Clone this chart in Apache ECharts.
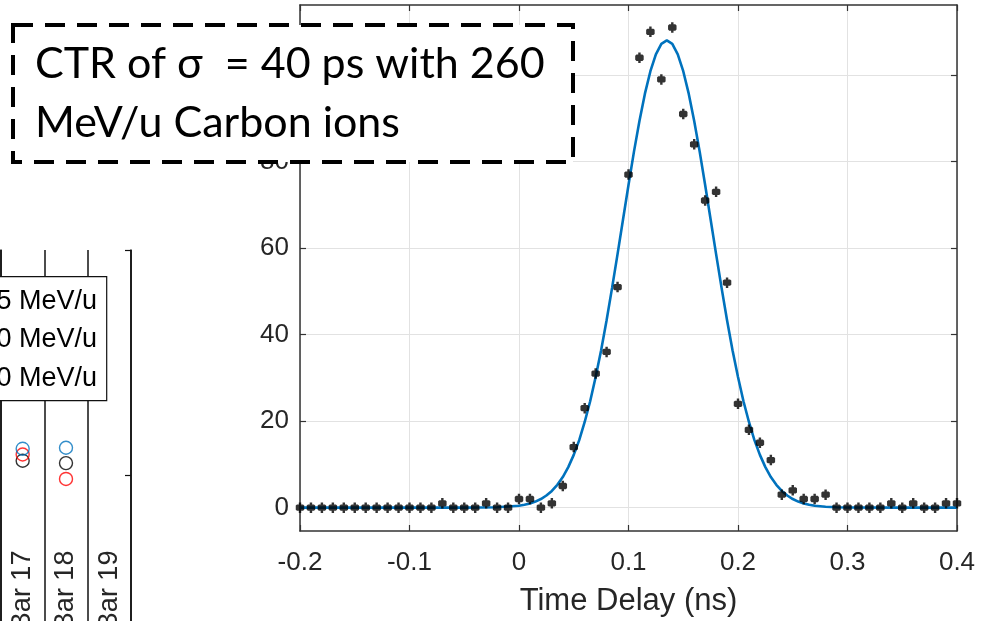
<!DOCTYPE html>
<html><head><meta charset="utf-8">
<script src="https://cdn.jsdelivr.net/npm/echarts@6/dist/echarts.min.js"></script>
<style>html,body{margin:0;padding:0;background:#fff}#c{width:990px;height:621px}</style>
</head><body><div id="c"></div>
<script>
// ---- main plot data: coincidence time histogram ----
const tDelay = [-0.2,-0.19,-0.18,-0.17,-0.16,-0.15,-0.14,-0.13,-0.12,-0.11,-0.1,-0.09,-0.08,-0.07,-0.06,-0.05,-0.04,-0.03,-0.02,-0.01,
  0,0.01,0.02,0.03,0.04,0.05,0.06,0.07,0.08,0.09,
  0.1,0.11,0.12,0.13,0.14,0.15,0.16,0.17,0.18,0.19,
  0.2,0.21,0.22,0.23,0.24,0.25,0.26,0.27,0.28,0.29,
  0.3,0.31,0.32,0.33,0.34,0.35,0.36,0.37,0.38,0.39,0.4];
const counts = [0,0,0,0,0,0,0,0,0,0,0,0,0,1,0,0,0,1,0,0,
  2,2,0,1,5,14,23,31,36,51,
  77,104,110,99,111,91,84,71,73,52,
  24,18,15,11,3,4,2,2,3,0,
  0,0,0,0,1,0,1,0,0,1,1];
// Gaussian fit curve
const fitT = [-0.2,-0.1,-0.05,-0.02,0,0.005,0.01,0.015,0.02,0.025,0.03,0.035,0.04,0.045,0.05,0.055,0.06,0.065,0.07,0.075,0.08,0.085,0.09,0.095,
  0.1,0.105,0.11,0.115,0.12,0.125,0.13,0.135,0.14,0.145,0.15,0.155,0.16,0.165,0.17,0.175,0.18,0.185,0.19,0.195,
  0.2,0.205,0.21,0.215,0.22,0.225,0.23,0.235,0.24,0.245,0.25,0.255,0.26,0.265,0.27,0.28,0.29,0.3,0.35,0.4];
const fitCounts = [0,0,0,0.08,0.44,0.66,0.97,1.4,1.99,2.8,3.87,5.28,7.08,9.37,12.2,15.6,19.8,24.6,30.2,36.4,43.3,50.8,58.6,66.6,
  74.6,82.3,89.4,95.7,100.9,104.8,107.2,108,107.2,104.8,100.9,95.7,89.4,82.3,74.6,66.6,58.6,50.8,43.3,36.4,
  30.2,24.6,19.8,15.6,12.2,9.37,7.08,5.28,3.87,2.8,1.99,1.4,0.97,0.66,0.44,0.19,0.08,0.03,0,0];
const yTickValues = [0,20,40,60,80,100];

// ---- cropped neighbouring chart (left) ----
const barLabels = ['Bar 17','Bar 18','Bar 19'];
const blueVals = [55.6, 55.8, null];
const blackVals = [53.1, 52.6, null];
const redVals = [54.4, 49.3, null];
const legendLabels = ['5 MeV/u','0 MeV/u','0 MeV/u'];

// ---- annotation ----
const noteLines = ['CTR of \u03c3  = 40 ps with 260', 'MeV/u Carbon ions'];

const chart = echarts.init(document.getElementById('c'), null, {renderer:'canvas'});
const axC = '#333333';
const fam = 'Liberation Sans, Arial, sans-serif';
const dark = '#111111';
const markerPath = 'path://M3,0H5V2H6.5L7.5,3V7L6.5,8H5V10H3V8H1.5L0.5,7V3L1.5,2H3Z';

const option = {
  animation: false,
  backgroundColor: '#ffffff',
  grid: [
    {left: 300, top: 5, width: 657, height: 526, show: false, outerBoundsMode: 'none', containLabel: false},
    {left: 1, top: 250, width: 130, height: 465.6, show: false, outerBoundsMode: 'none', containLabel: false}
  ],
  xAxis: [
    {gridIndex: 0, type: 'value', min: -0.2, max: 0.4, interval: 0.1, position: 'bottom',
      axisLine: {onZero: false, lineStyle: {color: axC, width: 1.5}},
      axisTick: {inside: true, length: 6, lineStyle: {color: axC, width: 1.2}},
      axisLabel: {fontSize: 26, color: '#262626', fontFamily: fam, margin: 19},
      splitLine: {show: true, lineStyle: {color: '#e2e2e2', width: 1}},
      name: 'Time Delay (ns)', nameLocation: 'middle', nameGap: 55,
      nameTextStyle: {fontSize: 31, color: '#262626', fontFamily: fam}},
    {gridIndex: 0, type: 'value', min: -0.2, max: 0.4, interval: 0.1, position: 'top',
      axisLine: {onZero: false, lineStyle: {color: axC, width: 1.5}},
      axisTick: {inside: true, length: 6, lineStyle: {color: axC, width: 1.2}},
      axisLabel: {show: false}, splitLine: {show: false}},
    {gridIndex: 1, type: 'category', data: barLabels, position: 'bottom', offset: -170,
      axisLine: {show: false}, axisTick: {show: false},
      axisLabel: {rotate: 90, fontSize: 27, color: '#262626', fontFamily: fam, margin: 5, interval: 0},
      splitLine: {show: true, interval: 0, lineStyle: {color: dark, width: 1.5}}},
    {gridIndex: 1, type: 'category', data: barLabels, position: 'top',
      axisLine: {show: true, lineStyle: {color: dark, width: 1.5}},
      axisTick: {show: true, inside: true, alignWithLabel: true, length: 7,
        interval: function (i) { return i === 0; }, lineStyle: {color: dark, width: 1.2}},
      axisLabel: {show: false}, splitLine: {show: false}}
  ],
  yAxis: [
    {gridIndex: 0, type: 'value', min: -5.4, max: 116.2, position: 'left',
      axisLine: {show: true, onZero: false, lineStyle: {color: axC, width: 1.5}},
      axisTick: {show: true, inside: true, length: 6, customValues: yTickValues, lineStyle: {color: axC, width: 1.2}},
      axisLabel: {customValues: yTickValues, fontSize: 26, color: '#262626', fontFamily: fam, margin: 11},
      splitLine: {show: true, lineStyle: {color: '#e2e2e2', width: 1}}},
    {gridIndex: 0, type: 'value', min: -5.4, max: 116.2, position: 'right',
      axisLine: {show: true, onZero: false, lineStyle: {color: axC, width: 1.5}},
      axisTick: {show: true, inside: true, length: 6, customValues: yTickValues, lineStyle: {color: axC, width: 1.2}},
      axisLabel: {show: false}, splitLine: {show: false}},
    {gridIndex: 1, type: 'value', min: 0, max: 97, interval: 50, position: 'right',
      axisLine: {show: true, onZero: false, lineStyle: {color: dark, width: 1.5}},
      axisTick: {show: true, inside: true, length: 6, lineStyle: {color: dark, width: 1.2}},
      axisLabel: {show: false}, splitLine: {show: false}},
    {gridIndex: 1, type: 'value', min: 0, max: 97, interval: 50, position: 'left',
      axisLine: {show: true, onZero: false, lineStyle: {color: dark, width: 1.5}},
      axisTick: {show: false}, axisLabel: {show: false}, splitLine: {show: false}}
  ],
  series: [
    {name: 'Gaussian fit', type: 'line', xAxisIndex: 0, yAxisIndex: 0, z: 2,
      data: fitT.map((t, i) => [t, fitCounts[i]]), showSymbol: false, symbol: 'none',
      lineStyle: {color: '#0072BD', width: 2.6}},
    {name: 'Counts', type: 'scatter', xAxisIndex: 0, yAxisIndex: 0, z: 3,
      data: tDelay.map((t, i) => [t, counts[i]]),
      symbol: markerPath, symbolSize: [8.5, 10.5], itemStyle: {color: '#000000'}},
    {name: 'Black', type: 'scatter', xAxisIndex: 2, yAxisIndex: 2, data: blackVals,
      symbol: 'circle', symbolSize: 13, itemStyle: {color: 'rgba(0,0,0,0)', borderColor: '#000000', borderWidth: 1.4}},
    {name: 'Red', type: 'scatter', xAxisIndex: 2, yAxisIndex: 2, data: redVals,
      symbol: 'circle', symbolSize: 13, itemStyle: {color: 'rgba(0,0,0,0)', borderColor: '#ff0000', borderWidth: 1.4}},
    {name: 'Blue', type: 'scatter', xAxisIndex: 2, yAxisIndex: 2, data: blueVals,
      symbol: 'circle', symbolSize: 13, itemStyle: {color: 'rgba(0,0,0,0)', borderColor: '#0072BD', borderWidth: 1.4}}
  ],
  graphic: [
    {type: 'rect', z: 100, shape: {x: -10, y: 276.7, width: 116.7, height: 124},
      style: {fill: '#ffffff', stroke: dark, lineWidth: 1.2}},
    {type: 'text', z: 101, x: 97, y: 301.7, style: {text: legendLabels[0], align: 'right', verticalAlign: 'middle', font: '27px "Liberation Sans", Arial', fill: '#000'}},
    {type: 'text', z: 101, x: 97, y: 340, style: {text: legendLabels[1], align: 'right', verticalAlign: 'middle', font: '27px "Liberation Sans", Arial', fill: '#000'}},
    {type: 'text', z: 101, x: 97, y: 378.3, style: {text: legendLabels[2], align: 'right', verticalAlign: 'middle', font: '27px "Liberation Sans", Arial', fill: '#000'}},
    {type: 'rect', z: 100, shape: {x: 13, y: 25, width: 560, height: 137},
      style: {fill: '#ffffff', stroke: '#000000', lineWidth: 4, lineDash: [20, 12]}},
    {type: 'text', z: 101, x: 35, y: 64, style: {text: noteLines[0], verticalAlign: 'middle', font: '43px Lato, "Noto Sans", sans-serif', fill: '#000'}},
    {type: 'text', z: 101, x: 35, y: 123, style: {text: noteLines[1], verticalAlign: 'middle', font: '43px Lato, "Noto Sans", sans-serif', fill: '#000'}}
  ]
};
chart.setOption(option);
</script></body></html>
